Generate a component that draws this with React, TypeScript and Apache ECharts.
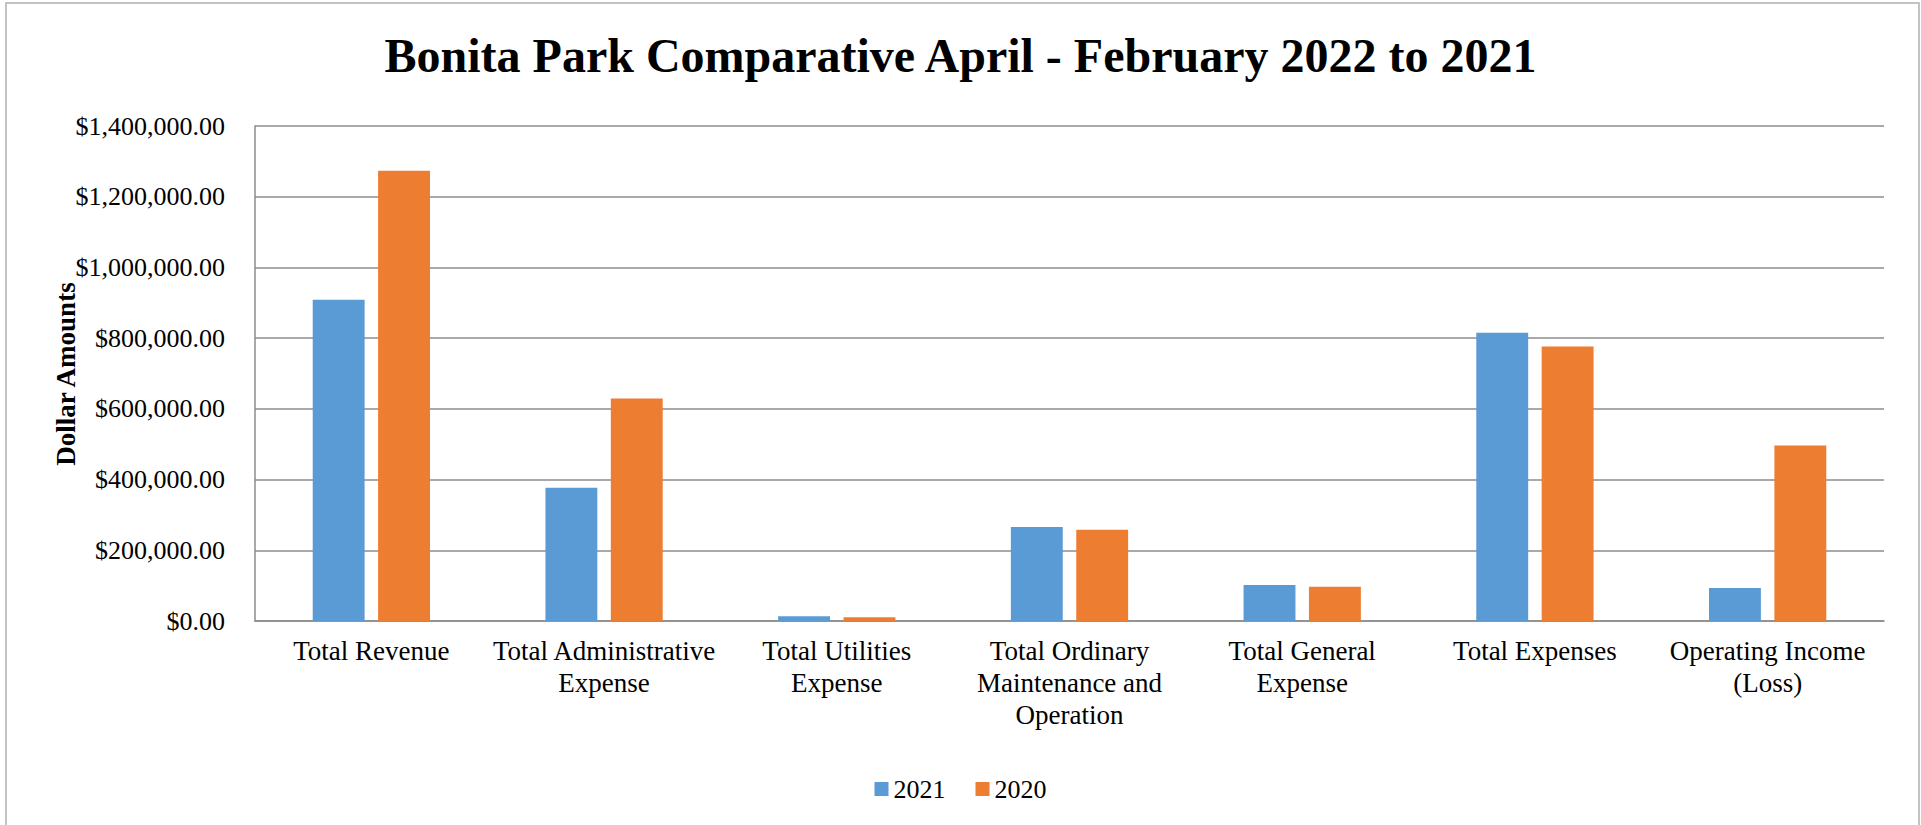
import React, { useEffect, useRef } from "react";
import * as echarts from "echarts";

const titleText = "Bonita Park Comparative April - February 2022 to 2021";
const yAxisName = "Dollar Amounts";
const categories = [
  "Total Revenue",
  "Total Administrative\nExpense",
  "Total Utilities\nExpense",
  "Total Ordinary\nMaintenance and\nOperation",
  "Total General\nExpense",
  "Total Expenses",
  "Operating Income\n(Loss)",
];
const seriesNames = ["2021", "2020"];
const values2021 = [908600, 377000, 13200, 265700, 101800, 815100, 93300];
const values2020 = [1273300, 629600, 10400, 258200, 97100, 776400, 496600];
const yMin = 0;
const yMax = 1400000;
const yInterval = 200000;

const FONT = "'Liberation Serif', 'Times New Roman', serif";

export default function App() {
  const ref = useRef<HTMLDivElement>(null);
  useEffect(() => {
    if (!ref.current) return;
    const chart = echarts.init(ref.current, undefined, { renderer: "svg" });
    const fmt = (v: number) =>
      "$" + v.toLocaleString("en-US", { minimumFractionDigits: 2, maximumFractionDigits: 2 });
    chart.setOption({
      animation: false,
      backgroundColor: "#ffffff",
      title: {
        text: titleText,
        left: "center",
        top: 26,
        textStyle: { fontFamily: FONT, fontSize: 48, fontWeight: "bold", color: "#000" },
      },
      legend: {
        data: seriesNames,
        top: 771,
        left: "center",
        itemWidth: 14,
        itemHeight: 14,
        itemGap: 30,
        icon: "rect",
        textStyle: { fontFamily: FONT, fontSize: 26, color: "#000" },
      },
      graphic: [
        {
          type: "rect",
          shape: { x: 6, y: 3, width: 1913, height: 840 },
          style: { fill: "none", stroke: "#b0b0b0", lineWidth: 1.5 },
          silent: true,
        },
        {
          type: "text",
          x: 66,
          y: 374,
          rotation: Math.PI / 2,
          silent: true,
          style: {
            text: yAxisName,
            fontFamily: FONT,
            fontSize: 27,
            fontWeight: "bold",
            fill: "#000",
            align: "center",
            verticalAlign: "middle",
          },
        },
      ],
      grid: { left: 255, right: 37, top: 126, bottom: 204, containLabel: false },
      xAxis: {
        type: "category",
        data: categories,
        axisTick: { show: false },
        axisLine: { show: true, lineStyle: { color: "#8c8c8c", width: 1.5 } },
        axisLabel: {
          interval: 0,
          margin: 14,
          fontFamily: FONT,
          fontSize: 27,
          lineHeight: 32,
          color: "#000",
          align: "center",
        },
      },
      yAxis: {
        type: "value",
        min: yMin,
        max: yMax,
        interval: yInterval,
        axisLine: { show: true, lineStyle: { color: "#8c8c8c", width: 1.5 } },
        axisTick: { show: false },
        splitLine: { show: true, lineStyle: { color: "#8c8c8c", width: 1.5 } },
        axisLabel: {
          margin: 30,
          fontFamily: FONT,
          fontSize: 26,
          color: "#000",
          formatter: (v: number) => fmt(v),
        },
      },
      series: [
        {
          name: seriesNames[0],
          type: "bar",
          data: values2021,
          barWidth: "22.3%",
          barGap: "26%",
          itemStyle: { color: "#5B9BD5" },
        },
        {
          name: seriesNames[1],
          type: "bar",
          data: values2020,
          barWidth: "22.3%",
          barGap: "26%",
          itemStyle: { color: "#ED7D31" },
        },
      ],
    });
    return () => chart.dispose();
  }, []);
  return (
    <div
      ref={ref}
      style={{ position: "fixed", left: 0, top: 0, width: 1921, height: 825, background: "#fff" }}
    />
  );
}
